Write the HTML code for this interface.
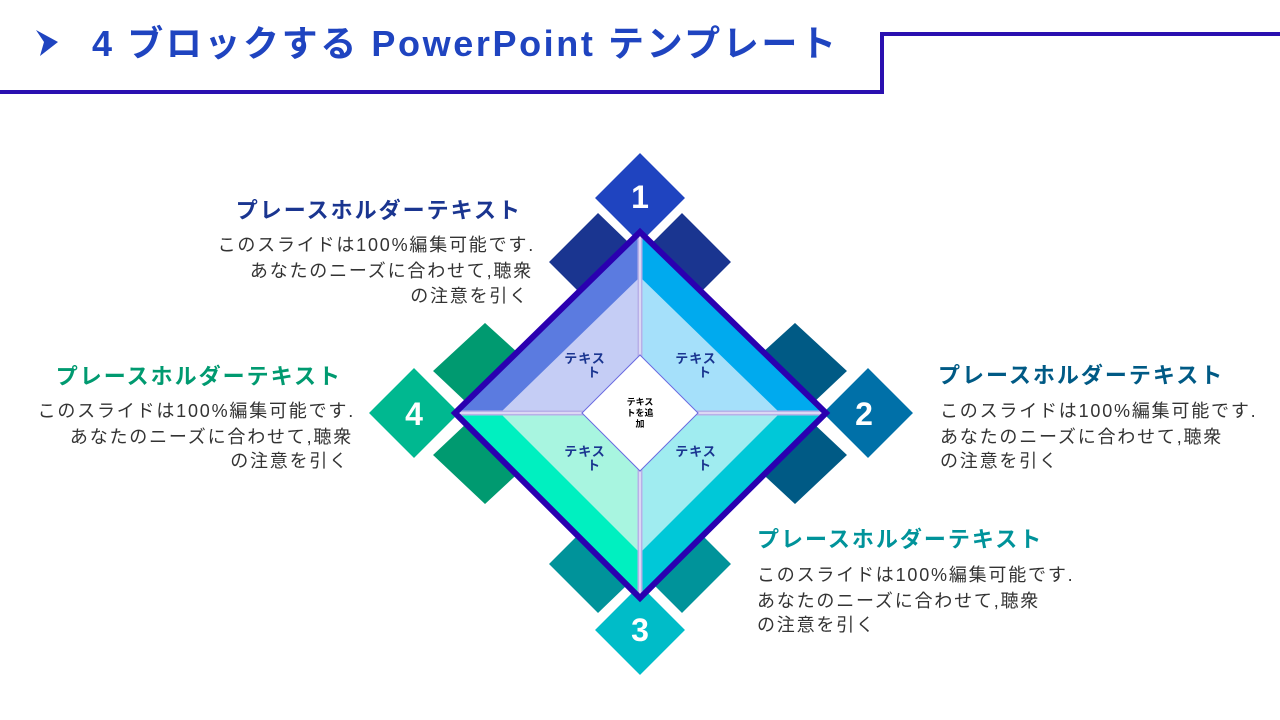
<!DOCTYPE html>
<html><head><meta charset="utf-8"><style>
html,body{margin:0;padding:0;background:#fff;}
svg{display:block;font-family:"Liberation Sans","Noto Sans CJK JP",sans-serif;}
</style></head><body>
<svg width="1280" height="720" viewBox="0 0 1280 720">
<polyline points="0,92 882,92 882,34 1280,34" fill="none" stroke="#2a10b0" stroke-width="4"/>
<polygon points="36,30 58,42 40,56 44,42" fill="#1f44c0"/>
<text x="92" y="56" font-size="36" font-weight="bold" fill="#1f44c0" letter-spacing="2.6">4 ブロックする PowerPoint テンプレート</text>
<g stroke="#fff" stroke-width="1.5">
<polygon points="598,212 650,262 598,312 548,262" fill="#1a3590"/>
<polygon points="682,212 732,262 682,312 632,262" fill="#1a3590"/>
<polygon points="795,322 848,371 795,421 741,371" fill="#005a85"/>
<polygon points="795,405 848,455 795,505 741,455" fill="#005a85"/>
<polygon points="598,514 650,564 598,614 548,564" fill="#00939a"/>
<polygon points="682,514 732,564 682,614 632,564" fill="#00939a"/>
<polygon points="485,322 539,371 485,421 432,371" fill="#009a70"/>
<polygon points="485,405 539,455 485,505 432,455" fill="#009a70"/>
<polygon points="640,152 686,198 640,244 594,198" fill="#1f44c0"/>
<polygon points="868,367 914,413 868,459 822,413" fill="#0070a8"/>
<polygon points="640,584 686,630 640,676 594,630" fill="#00bcc8"/>
<polygon points="414,367 460,413 414,459 368,413" fill="#00b890"/>
</g>
<g font-size="32" font-weight="bold" fill="#fff" text-anchor="middle">
<text x="640" y="208">1</text><text x="864" y="425">2</text><text x="640" y="641">3</text><text x="414" y="425">4</text>
</g>
<polygon points="640,232 640,413 455,413" fill="#5b7be0"/>
<polygon points="640,232 640,413 826,413" fill="#00aaee"/>
<polygon points="640,598 640,413 455,413" fill="#00f0c0"/>
<polygon points="640,598 640,413 826,413" fill="#00c8d8"/>
<polygon points="640,277 640,413 500,413" fill="#c5cdf5"/>
<polygon points="640,277 640,413 780,413" fill="#a5e0fa"/>
<polygon points="640,553 640,413 500,413" fill="#a8f5e0"/>
<polygon points="640,553 640,413 780,413" fill="#a0ecf0"/>
<line x1="640" y1="232" x2="640" y2="598" stroke="#b8b0e8" stroke-width="5"/>
<line x1="455" y1="413" x2="826" y2="413" stroke="#b8b0e8" stroke-width="5"/>
<line x1="640" y1="232" x2="640" y2="598" stroke="#fff" stroke-width="1"/>
<line x1="455" y1="413" x2="826" y2="413" stroke="#fff" stroke-width="1"/>
<polygon points="640,232 826,413 640,598 455,413" fill="none" stroke="#2a00b0" stroke-width="6"/>
<polygon points="640,355 698,413 640,471 582,413" fill="#fff" stroke="#6a6ae0" stroke-width="1"/>
<g font-size="13" font-weight="bold" fill="#1a3590" text-anchor="middle" letter-spacing="1">
<text x="585" y="363">テキス</text><text x="594" y="377">ト</text>
<text x="696" y="363">テキス</text><text x="705" y="377">ト</text>
<text x="585" y="456">テキス</text><text x="594" y="470">ト</text>
<text x="696" y="456">テキス</text><text x="705" y="470">ト</text>
</g>
<g font-size="9" font-weight="bold" fill="#000" text-anchor="middle">
<text x="640" y="405">テキス</text><text x="640" y="416">トを追</text><text x="640" y="427">加</text>
</g>
<g font-size="22" font-weight="bold" letter-spacing="2">
<text x="522" y="218" text-anchor="end" fill="#1a3590">プレースホルダーテキスト</text>
<text x="342" y="384" text-anchor="end" fill="#009a70">プレースホルダーテキスト</text>
<text x="938" y="383" fill="#005a85">プレースホルダーテキスト</text>
<text x="757" y="547" fill="#00939a">プレースホルダーテキスト</text>
</g>
<g font-size="18" fill="#333" letter-spacing="1.8">
<g text-anchor="end">
<text x="535" y="251">このスライドは100%編集可能です.</text>
<text x="533" y="277">あなたのニーズに合わせて,聴衆</text>
<text x="529" y="302">の注意を引く</text>
<text x="355" y="417">このスライドは100%編集可能です.</text>
<text x="353" y="443">あなたのニーズに合わせて,聴衆</text>
<text x="349" y="467">の注意を引く</text>
</g>
<text x="940" y="417">このスライドは100%編集可能です.</text>
<text x="940" y="443">あなたのニーズに合わせて,聴衆</text>
<text x="940" y="467">の注意を引く</text>
<text x="757" y="581">このスライドは100%編集可能です.</text>
<text x="757" y="607">あなたのニーズに合わせて,聴衆</text>
<text x="757" y="631">の注意を引く</text>
</g>
</svg>
</body></html>
